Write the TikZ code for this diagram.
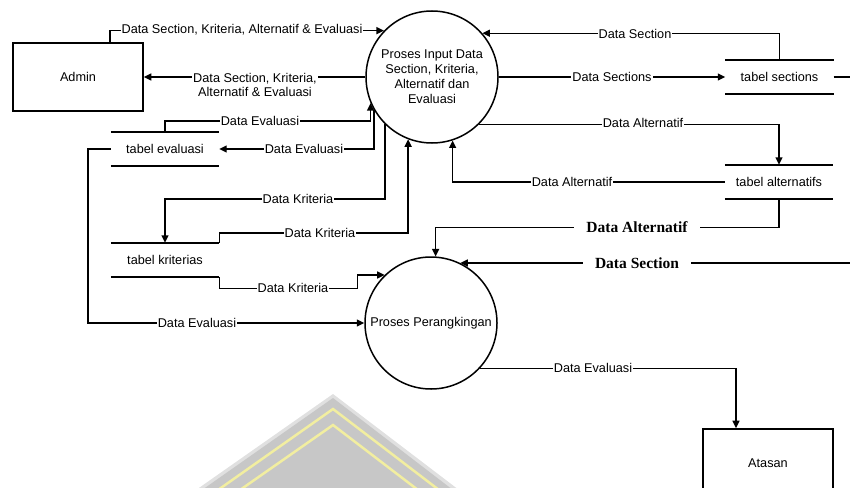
\documentclass[tikz,border=0pt]{standalone}
\usepackage{fontspec}
\setmainfont{Liberation Sans}
\newfontfamily\boldserif{Liberation Serif}
\usetikzlibrary{arrows.meta,calc}
\definecolor{wmyellow}{RGB}{242,238,160}
\begin{document}
\begin{tikzpicture}[x=1pt,y=-1pt,
  every node/.style={font=\fontsize{12.7}{15}\selectfont},
  conn/.style={line width=1.4pt},
  arr/.style={conn,-{Triangle[length=7.5pt,width=7pt]}},
  lbl/.style={fill=white,inner xsep=1pt,inner ysep=1pt},
  blbl/.style={fill=white,inner xsep=12pt,inner ysep=2pt,font=\fontsize{15.5}{18}\selectfont\boldserif\bfseries},
  entity/.style={draw,line width=1.7pt,minimum width=130pt,minimum height=68pt,inner sep=0pt},
  proc/.style={draw,circle,line width=1.5pt,minimum size=132pt,inner sep=0pt,align=center},
  store/.style={minimum width=108pt,minimum height=34pt,inner sep=0pt,
    append after command={(\tikzlastnode.north west) edge[line width=1.6pt] (\tikzlastnode.north east)
                          (\tikzlastnode.south west) edge[line width=1.6pt] (\tikzlastnode.south east)}},
]
\useasboundingbox (0,0) rectangle (850,487);
\clip (0,0) rectangle (850,487);

% faint roof emblem in the background
\fill[black!12] (196,490) -- (333,394) -- (459,490) -- cycle;
\fill[black!22] (202,490) -- (333,398) -- (453,490) -- cycle;
\draw[wmyellow,line width=2.5pt] (218,490) -- (333,409) -- (439,490);
\draw[wmyellow,line width=2.5pt] (240,490) -- (333,425) -- (418,490);

% entities, processes and data stores
\node[entity] (adm) at (78,77) {Admin};
\node[proc] (c1) at (432,77) {Proses Input Data\\Section, Kriteria,\\Alternatif dan\\Evaluasi};
\node[proc] (c2) at (431,323) {Proses Perangkingan};
\node[store] (ts) at (779.5,77) {tabel sections};
\node[store] (ta) at (779,182) {tabel alternatifs};
\node[store] (te) at (165,149) {tabel evaluasi};
\node[store] (tk) at (165,260) {tabel kriterias};
\node[entity] (ata) at (768,463) {Atasan};
\coordinate (rim) at (850,0);

% data flows
\draw[arr] ($(adm.north)+(32,0)$) |- (c1.136);
\draw[arr] (c1.west) -- (adm.east);
\draw[arr] (ts.north) |- (c1.41);
\draw[arr] (c1.east) -- (ts.west);
\draw[conn] (ts.east) -- (ts.east -| rim);
\draw[arr] (c1.-45) -| (ta.north);
\draw[arr] (ta.west) -| (c1.-72);
\draw[arr] (ta.south) -- ++(0,28) -| (c2.86);
\draw[arr] (c2.64 -| rim) -- (c2.64);
\draw[arr] (te.north) -- ++(0,-11) -| (c1.203);
\draw[arr] (c1.210) |- (te.east);
\draw[arr] (c1.225) |- ($(tk.north)+(0,-44)$) -- (tk.north);
\draw[arr] (tk.north east) -- ++(0,-10) -| (c1.249);
\draw[arr] (tk.south east) -- ++(0,11) -| ($(c2.134)+(-27,0)$) -- (c2.134);
\draw[arr] (te.west) -- ++(-23,0) |- (c2.west);
\draw[arr] (c2.317) -| ($(ata.north)+(-32,0)$);

% flow labels
\node[lbl] (l1) at (242,30) {Data Section, Kriteria, Alternatif \& Evaluasi};
\node[lbl,align=center,font=\fontsize{12.7}{14}\selectfont] (l2) at (255,84.5) {Data Section, Kriteria,\\Alternatif \& Evaluasi};
\node[lbl] (l3) at (635,33.5) {Data Section};
\node[lbl] (l4) at (612,77) {Data Sections};
\node[lbl] (l5) at (643,123) {Data Alternatif};
\node[lbl] (l6) at (572,182) {Data Alternatif};
\node[blbl] (l7) at (637,227) {Data Alternatif};
\node[blbl] (l8) at (637,263.5) {Data Section};
\node[lbl] (l9) at (260,121) {Data Evaluasi};
\node[lbl] (l10) at (304,149) {Data Evaluasi};
\node[lbl] (l11) at (298,199) {Data Kriteria};
\node[lbl] (l12) at (320,233) {Data Kriteria};
\node[lbl] (l13) at (293,288) {Data Kriteria};
\node[lbl] (l14) at (197,323) {Data Evaluasi};
\node[lbl] (l15) at (593,367.5) {Data Evaluasi};
\end{tikzpicture}
\end{document}
